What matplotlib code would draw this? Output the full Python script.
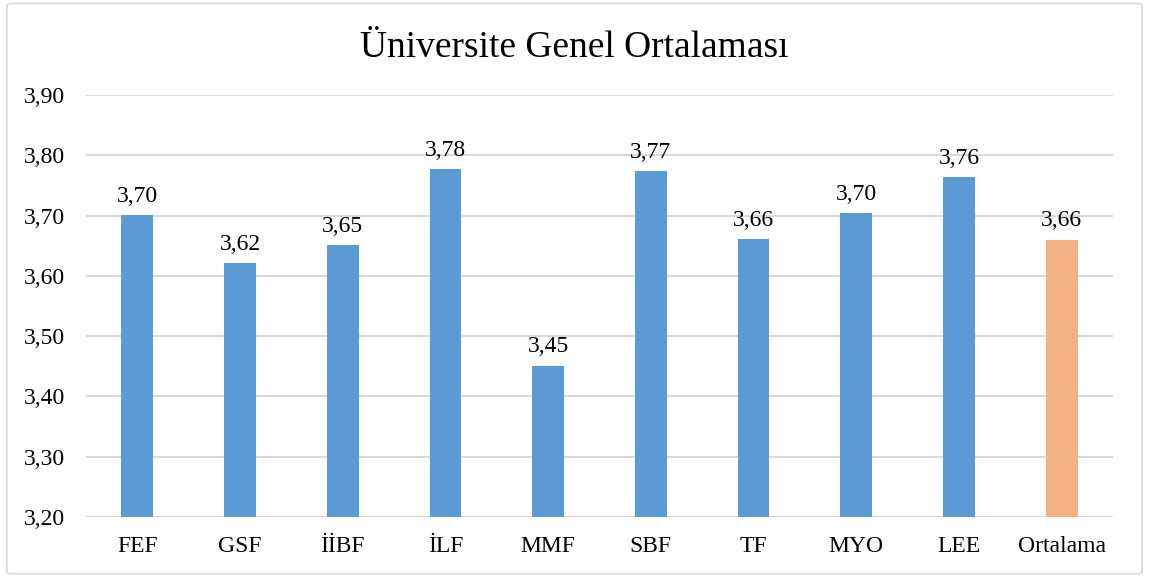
import matplotlib.pyplot as plt
from matplotlib.patches import FancyBboxPatch

categories = ["FEF", "GSF", "İİBF", "İLF", "MMF", "SBF", "TF", "MYO", "LEE", "Ortalama"]
values = [3.701, 3.621, 3.651, 3.777, 3.451, 3.774, 3.661, 3.704, 3.764, 3.660]
labels = ["3,70", "3,62", "3,65", "3,78", "3,45", "3,77", "3,66", "3,70", "3,76", "3,66"]
yticks = [3.20, 3.30, 3.40, 3.50, 3.60, 3.70, 3.80, 3.90]

plt.rcParams["font.family"] = ["Liberation Serif", "DejaVu Serif"]

fig = plt.figure(figsize=(11.49, 5.79), dpi=100)
ax = fig.add_axes([0.0748, 0.1071, 0.8939, 0.7289])

# outer chart border
border = FancyBboxPatch((0.006, 0.009), 0.988, 0.985, boxstyle="round,pad=0,rounding_size=0.004",
                        transform=fig.transFigure, facecolor="none", edgecolor="#D9D9D9", linewidth=1.3)
fig.patches.append(border)

colors = ["#5B9BD5"] * 9 + ["#F4B183"]
x = range(len(categories))
bars = ax.bar(x, values, width=0.31, color=colors, zorder=3)

for bar, lab in zip(bars, labels):
    ax.annotate(lab, xy=(bar.get_x() + bar.get_width() / 2, bar.get_height()),
                xytext=(0, 6), textcoords="offset points",
                ha="center", va="bottom", fontsize=17, color="#000000")

ax.set_ylim(3.20, 3.90)
ax.set_xlim(-0.5, len(categories) - 0.5)
ax.set_yticks(yticks)
ax.set_yticklabels([f"{t:.2f}".replace(".", ",") for t in yticks], fontsize=17)
ax.set_xticks(list(x))
ax.set_xticklabels(categories, fontsize=17)
ax.tick_params(axis="y", length=0, pad=15)
ax.tick_params(axis="x", length=0, pad=14)

ax.yaxis.grid(True, color="#D9D9D9", linewidth=1.5, zorder=0)
for s in ax.spines.values():
    s.set_visible(False)

fig.text(0.5, 0.917, "Üniversite Genel Ortalaması", ha="center", va="center", fontsize=27)

fig.savefig("out.png", dpi=100)
